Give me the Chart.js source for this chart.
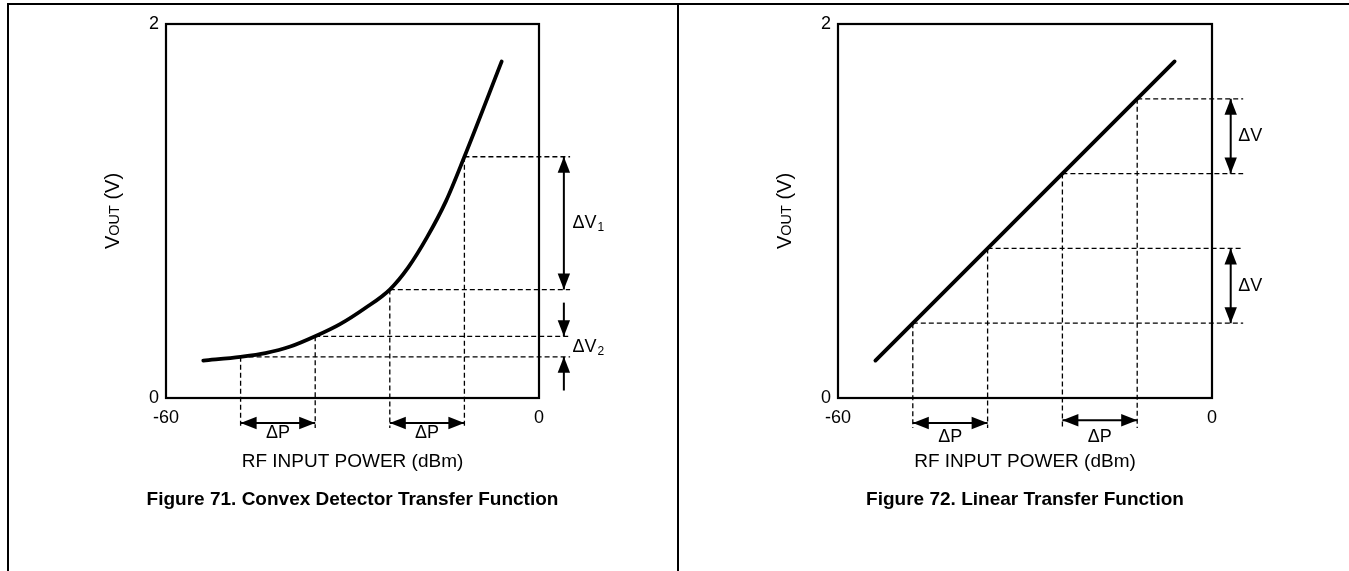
<!DOCTYPE html>
<html>
<head>
<meta charset="utf-8">
<script src="https://cdn.jsdelivr.net/npm/chart.js@4/dist/chart.umd.min.js"></script>
<style>
  body { margin: 0; background: #fff; }
  #page { position: relative; width: 1349px; height: 571px; overflow: hidden; }
  .rule { position: absolute; background: #000; }
  canvas { position: absolute; top: 0; }
</style>
</head>
<body>
<div id="page">
  <div class="rule" style="left:7px; top:3px; width:1342px; height:2px;"></div>
  <div class="rule" style="left:7px; top:3px; width:2px; height:568px;"></div>
  <div class="rule" style="left:677px; top:3px; width:2px; height:568px;"></div>
  <canvas id="convex" width="705" height="571" style="left:0"></canvas>
  <canvas id="linear" width="706" height="571" style="left:672px"></canvas>
</div>
<script>
/* values */
const xTicks = [-60, 0];
const yTicks = [0, 2];

const convexPower = [-54, -48, -44, -40, -36, -32, -28, -24, -21, -18, -15, -12, -6];
const convexVout  = [0.20, 0.22, 0.24, 0.275, 0.33, 0.395, 0.48, 0.58, 0.70, 0.86, 1.05, 1.29, 1.80];

const linearPower = [-54, -6];
const linearVout  = [0.20, 1.80];

// the points where the dashed guides leave the curve
const markPower = [-48, -36, -24, -12];
const convexMarkVout = [0.22, 0.33, 0.58, 1.29];
const linearMarkVout = [0.40, 0.80, 1.20, 1.60];

const FONT = "'Liberation Sans', Arial, sans-serif";
Chart.defaults.font.family = FONT;
Chart.defaults.color = "#000";

function dashed(points) {
  return {
    data: points,
    borderColor: "#000",
    borderWidth: 1.3,
    borderDash: [5, 3],
    pointRadius: 0,
    clip: false,
    order: 1,
  };
}

function guides(power, vout) {
  const sets = [];
  power.forEach((p, i) => {
    sets.push(dashed([{ x: p, y: vout[i] }, { x: 5, y: vout[i] }]));
    sets.push(dashed([{ x: p, y: vout[i] }, { x: p, y: -0.16 }]));
  });
  return sets;
}

function drawArrow(ctx, x1, y1, x2, y2, both) {
  const L = 16, W = 6.2;
  const ang = Math.atan2(y2 - y1, x2 - x1);
  const head = (tx, ty, a) => {
    ctx.beginPath();
    ctx.moveTo(tx, ty);
    ctx.lineTo(tx - L * Math.cos(a) + W * Math.sin(a), ty - L * Math.sin(a) - W * Math.cos(a));
    ctx.lineTo(tx - L * Math.cos(a) - W * Math.sin(a), ty - L * Math.sin(a) + W * Math.cos(a));
    ctx.closePath();
    ctx.fill();
  };
  ctx.beginPath();
  ctx.moveTo(x1, y1);
  ctx.lineTo(x2, y2);
  ctx.stroke();
  head(x2, y2, ang);
  if (both) head(x1, y1, ang + Math.PI);
}

const annotate = {
  id: "annotate",
  afterDatasetsDraw(chart, args, opts) {
    const { ctx, chartArea: a } = chart;
    const sx = chart.scales.x, sy = chart.scales.y;
    ctx.save();
    ctx.strokeStyle = "#000";
    ctx.fillStyle = "#000";
    ctx.lineWidth = 2.2;
    ctx.setLineDash([]);
    ctx.strokeRect(a.left, a.top, a.right - a.left, a.bottom - a.top);

    ctx.lineWidth = 2;
    opts.arrows.forEach(r => drawArrow(ctx,
      sx.getPixelForValue(r.x1), sy.getPixelForValue(r.y1),
      sx.getPixelForValue(r.x2), sy.getPixelForValue(r.y2), r.both));

    ctx.textBaseline = "middle";
    opts.labels.forEach(t => {
      const px = sx.getPixelForValue(t.x), py = sy.getPixelForValue(t.y);
      ctx.font = "18px " + FONT;
      ctx.textAlign = t.align || "center";
      ctx.fillText(t.text, px, py);
      if (t.sub) {
        const w = ctx.measureText(t.text).width;
        ctx.font = "12px " + FONT;
        ctx.textAlign = "left";
        ctx.fillText(t.sub, px + w + 1, py + 5);
      }
    });

    // V with small-caps OUT, rotated along the y axis
    const parts = [["V", 20], ["OUT", 14.5], [" (V)", 20]];
    let total = 0;
    parts.forEach(p => { ctx.font = p[1] + "px " + FONT; total += ctx.measureText(p[0]).width; });
    ctx.translate(a.left - 54, (a.top + a.bottom) / 2);
    ctx.rotate(-Math.PI / 2);
    ctx.textAlign = "left";
    ctx.textBaseline = "alphabetic";
    let cx = -total / 2;
    parts.forEach(p => {
      ctx.font = p[1] + "px " + FONT;
      ctx.fillText(p[0], cx, 7);
      cx += ctx.measureText(p[0]).width;
    });
    ctx.restore();
  },
};

function makeChart(id, power, vout, markVout, caption, arrows, labels) {
  return new Chart(document.getElementById(id), {
    type: "line",
    data: {
      datasets: [
        {
          data: power.map((p, i) => ({ x: p, y: vout[i] })),
          borderColor: "#000",
          borderWidth: 3.8,
          borderCapStyle: "round",
          pointRadius: 0,
          cubicInterpolationMode: "monotone",
          clip: false,
          order: 0,
        },
        ...guides(markPower, markVout),
      ],
    },
    options: {
      responsive: false,
      animation: false,
      events: [],
      layout: { padding: { left: 0, right: 0, top: 24, bottom: 59.6 } },
      plugins: {
        legend: { display: false },
        tooltip: { enabled: false },
        title: {
          display: true,
          text: caption,
          position: "bottom",
          padding: 0,
          font: { size: 19, weight: "bold", lineHeight: 1.2 },
          color: "#000",
        },
        annotate: { arrows: arrows, labels: labels },
      },
      scales: {
        x: {
          type: "linear",
          min: -60,
          max: 0,
          afterBuildTicks: s => { s.ticks = xTicks.map(v => ({ value: v })); },
          afterFit: s => { s.height = 90.6; },
          grid: { display: false, drawTicks: false },
          border: { display: false },
          ticks: { padding: 9, maxRotation: 0, autoSkip: false, font: { size: 18 } },
          title: {
            display: true,
            text: "RF INPUT POWER (dBm)",
            font: { size: 19, lineHeight: 1.2 },
            padding: { top: 0, bottom: 15.2 },
          },
        },
        y: {
          type: "linear",
          min: 0,
          max: 2,
          afterBuildTicks: s => { s.ticks = yTicks.map(v => ({ value: v })); },
          afterFit: s => { s.width = 166; },
          grid: { display: false, drawTicks: false },
          border: { display: false },
          ticks: { padding: 7, font: { size: 18 } },
        },
        // empty right-hand axis, as wide as the left one, so the caption centres under the plot
        yRight: {
          type: "linear",
          position: "right",
          min: 0,
          max: 2,
          afterFit: s => { s.width = 166; },
          grid: { display: false, drawTicks: false },
          border: { display: false },
          ticks: { display: false },
        },
      },
    },
    plugins: [annotate],
  });
}

const dpY = -0.134;
const dpLabelY = -0.19;

makeChart("convex", convexPower, convexVout, convexMarkVout,
  "Figure 71. Convex Detector Transfer Function",
  [
    { x1: markPower[0], y1: dpY, x2: markPower[1], y2: dpY, both: true },
    { x1: markPower[2], y1: dpY, x2: markPower[3], y2: dpY, both: true },
    { x1: 4, y1: convexMarkVout[3], x2: 4, y2: convexMarkVout[2], both: true },
    { x1: 4, y1: 0.51, x2: 4, y2: convexMarkVout[1], both: false },
    { x1: 4, y1: 0.04, x2: 4, y2: convexMarkVout[0], both: false },
  ],
  [
    { text: "ΔP", x: (markPower[0] + markPower[1]) / 2, y: dpLabelY },
    { text: "ΔP", x: (markPower[2] + markPower[3]) / 2, y: dpLabelY },
    { text: "ΔV", sub: "1", x: 5.4, y: (convexMarkVout[2] + convexMarkVout[3]) / 2, align: "left" },
    { text: "ΔV", sub: "2", x: 5.4, y: (convexMarkVout[0] + convexMarkVout[1]) / 2, align: "left" },
  ]);

makeChart("linear", linearPower, linearVout, linearMarkVout,
  "Figure 72. Linear Transfer Function",
  [
    { x1: markPower[0], y1: dpY, x2: markPower[1], y2: dpY, both: true },
    { x1: markPower[2], y1: dpY + 0.015, x2: markPower[3], y2: dpY + 0.015, both: true },
    { x1: 3, y1: linearMarkVout[3], x2: 3, y2: linearMarkVout[2], both: true },
    { x1: 3, y1: linearMarkVout[1], x2: 3, y2: linearMarkVout[0], both: true },
  ],
  [
    { text: "ΔP", x: (markPower[0] + markPower[1]) / 2, y: dpLabelY - 0.02 },
    { text: "ΔP", x: (markPower[2] + markPower[3]) / 2, y: dpLabelY - 0.02 },
    { text: "ΔV", x: 4.2, y: (linearMarkVout[2] + linearMarkVout[3]) / 2, align: "left" },
    { text: "ΔV", x: 4.2, y: (linearMarkVout[0] + linearMarkVout[1]) / 2, align: "left" },
  ]);
</script>
</body>
</html>
